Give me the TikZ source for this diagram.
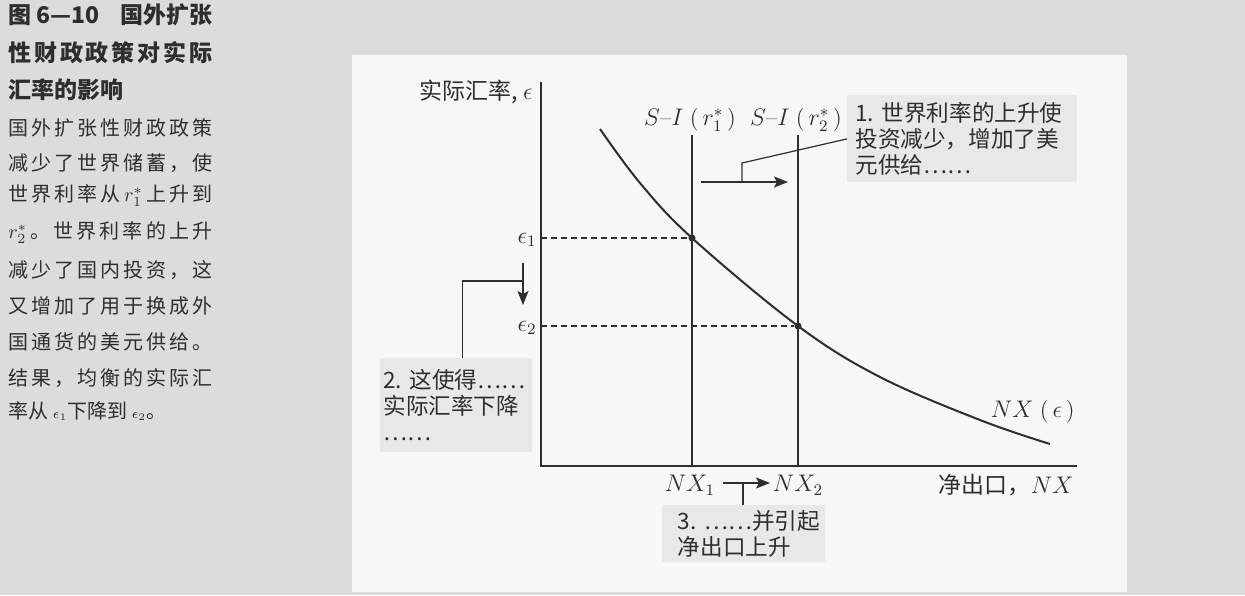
\documentclass[tikz,border=0pt]{standalone}
\usepackage{fontspec}
\newfontfamily\cjk{Noto Sans CJK SC}
\usepackage{tikz}
\usetikzlibrary{arrows.meta,positioning}
\definecolor{ink}{HTML}{2E2E2E}
\definecolor{pagegrey}{HTML}{DCDCDC}
\definecolor{panelwhite}{HTML}{F7F7F7}
\definecolor{notegrey}{HTML}{E8E8E8}
% sidebar lines are justified: spread the characters over the column
\newlength\sidew \setlength\sidew{102pt}
\def\spreadfirst#1{#1\spreadrest}
\def\spreadrest#1{\ifx\relax#1\else\hfil#1\expandafter\spreadrest\fi}
\newcommand\sideline[1]{\makebox[\sidew][s]{\spreadfirst#1\relax}}
\tikzset{
  sidetitle/.style={anchor=west, inner sep=0pt, text=ink, font=\cjk\bfseries\fontsize{11.5}{13}\selectfont},
  sidebody/.style={anchor=west, inner sep=0pt, text=ink, font=\cjk\fontsize{10}{12}\selectfont},
  note/.style={fill=notegrey, align=left, text=ink, inner ysep=0pt,
               font=\cjk\fontsize{11.3}{13}\selectfont},
  lbl/.style={text=ink, inner sep=0pt, font=\fontsize{11.5}{13}\selectfont},
  axis/.style={draw=ink, line width=0.8pt},
  siline/.style={draw=ink, line width=1pt},
  curve/.style={draw=ink, line width=1pt},
  guide/.style={draw=ink, line width=0.6pt, dash pattern=on 3pt off 2pt},
  shiftarrow/.style={draw=ink, line width=0.7pt, -{Stealth[length=7pt, width=5.5pt, inset=1.5pt]}},
  leader/.style={draw=ink, line width=0.6pt},
  eqdot/.style={circle, fill=ink, inner sep=0pt, minimum size=3.5pt},
}
\begin{document}
\begin{tikzpicture}[x=0.5pt, y=-0.5pt]
  \useasboundingbox (0,0) rectangle (1245,595);
  \fill[pagegrey] (0,0) rectangle (1245,595);
  \fill[panelwhite] (352,55) rectangle (1127,592);

  % sidebar caption
  \node[sidetitle] (cap1) at (8,15) {\makebox[\sidew][s]{图 6—10\hfil 国外扩张}};
  \node[sidetitle] (cap2) at (8,53) {\sideline{性财政政策对实际}};
  \node[sidetitle] (cap3) at (8,90) {汇率的影响};
  \node[sidebody] (txt1) at (8,128) {\sideline{国外扩张性财政政策}};
  \node[sidebody] (txt2) at (8,163) {\sideline{减少了世界储蓄，使}};
  \node[sidebody] (txt3) at (8,196) {\sideline{世界利率从{$r_1^*$}上升到}};
  \node[sidebody] (txt4) at (8,233) {\sideline{{$r_2^*$}。世界利率的上升}};
  \node[sidebody] (txt5) at (8,270) {\sideline{减少了国内投资，这}};
  \node[sidebody] (txt6) at (8,306) {\sideline{又增加了用于换成外}};
  \node[sidebody] (txt7) at (8,342) {\sideline{国通货的美元供给。}};
  \node[sidebody] (txt8) at (8,378) {\sideline{结果，均衡的实际汇}};
  \node[sidebody] (txt9) at (8,411) {率从 $\scriptstyle\epsilon_1$下降到 $\scriptstyle\epsilon_2$。};

  % axes
  \coordinate (O) at (541,466);
  \coordinate (ytop) at (541,82);
  \coordinate (xend) at (1077,466);
  \draw[axis] (ytop) -- (O) -- (xend);
  \node[lbl, anchor=east] (ylab) at (533,92) {\cjk 实际汇率, $\epsilon$};
  \node[lbl, anchor=east] (xlab) at (1074,485) {\cjk 净出口，\normalfont$NX$};

  % saving minus investment at the two world rates
  \coordinate (s1top) at (692,135);
  \coordinate (s2top) at (798,135);
  \draw[siline] (s1top) -- (s1top |- O);
  \draw[siline] (s2top) -- (s2top |- O);
  \node[lbl] (s1lab) at (690,120) {$S$–$I$\;(\,$r^*_1$\,)};
  \node[lbl] (s2lab) at (796,120) {$S$–$I$\;(\,$r^*_2$\,)};

  % net exports schedule
  \draw[curve] plot[smooth, tension=0.6] coordinates
    {(600,129) (640,183) (692,238) (798,326) (880,377) (980,420) (1050,444)};
  \node[lbl, anchor=east] (nxlab) at (1075,412) {$NX$\;(\,$\epsilon$\,)};

  % equilibria
  \node[eqdot] (e1) at (692,238) {};
  \node[eqdot] (e2) at (798,326) {};
  \draw[guide] (e1 -| O) -- (e1);
  \draw[guide] (e2 -| O) -- (e2);
  \node[lbl, anchor=east] (eps1) at (537,240) {$\epsilon_1$};
  \node[lbl, anchor=east] (eps2) at (537,328) {$\epsilon_2$};
  \node[lbl] (nx1) at (690,485) {$NX_1$};
  \node[lbl] (nx2) at (798,485) {$NX_2$};

  % notes
  \node[note, anchor=north west, text width=107pt, inner xsep=4pt, minimum height=43.5pt]
    (n1) at (847,95) {1.~世界利率的上升使\\投资减少，增加了美\\元供给……};
  \node[note, anchor=north west, text width=73pt, inner xsep=1.5pt, minimum height=47pt]
    (n2) at (380,358) {2.~这使得……\\实际汇率下降\\……};
  \node[note, anchor=north west, text width=66pt, inner xsep=7.75pt, minimum height=28.5pt]
    (n3) at (662,505) {3.~……并引起\\净出口上升};

  % shifts and leaders
  \coordinate (a1s) at (701,182);
  \coordinate (a1e) at (788,182);
  \coordinate (k1) at (742,182);
  \coordinate (k1up) at (742,163);
  \draw[shiftarrow] (a1s) -- (a1e);
  \draw[leader] (k1) -- (k1up) -- (n1.west);

  \coordinate (a2s) at (523,263);
  \coordinate (a2e) at (523,305);
  \coordinate (k2) at (523,281);
  \draw[shiftarrow] (a2s) -- (a2e);
  \draw[leader] (k2) -| ([xshift=3pt]n2.north);

  \coordinate (a3s) at (723,483);
  \coordinate (a3e) at (770,483);
  \coordinate (k3) at (743,483);
  \draw[shiftarrow] (a3s) -- (a3e);
  \draw[leader] (k3) -- (k3 |- n3.north);
\end{tikzpicture}
\end{document}
